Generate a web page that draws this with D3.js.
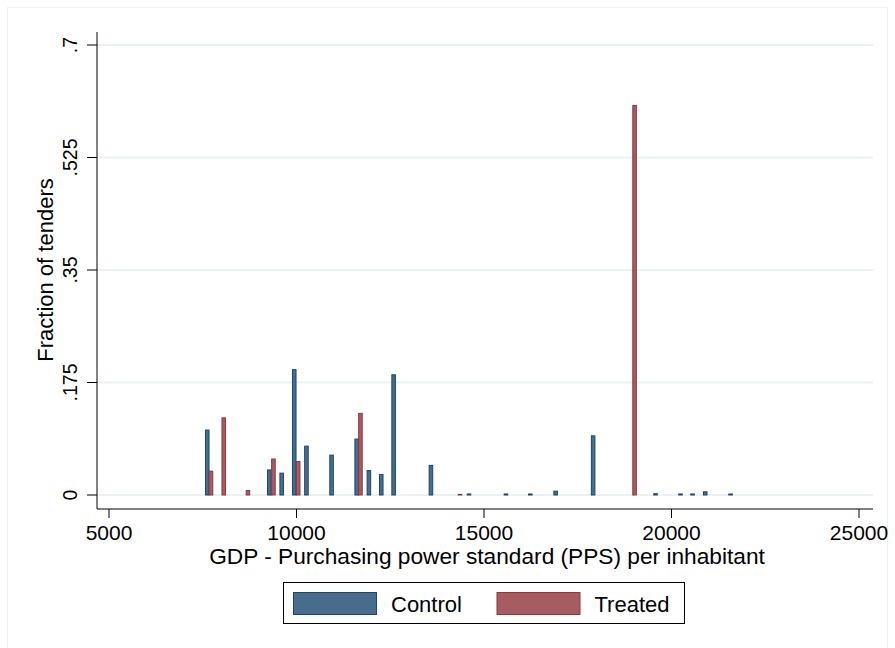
<!DOCTYPE html>
<html>
<head>
<meta charset="utf-8">
<script src="https://cdn.jsdelivr.net/npm/d3@7"></script>
<style>
  body { margin: 0; background: #fff; }
  svg { display: block; font-family: "Liberation Sans", Arial, sans-serif; }
</style>
</head>
<body>
<svg width="895" height="648"></svg>
<script>
// data
var controlGdp = [7620, 9275, 9605, 9940, 10265, 10935, 11605, 11930, 12260, 12590, 13585,
                  14600, 15585, 16235, 16910, 17910, 19575, 20240, 20560, 20900, 21575];
var controlFrac = [0.101, 0.039, 0.034, 0.195, 0.076, 0.062, 0.087, 0.038, 0.032, 0.187, 0.046,
                   0.0016, 0.0016, 0.0016, 0.006, 0.092, 0.002, 0.0016, 0.0016, 0.005, 0.0016];
var treatedGdp = [7720, 8060, 8705, 9385, 10045, 11705, 14360, 19015];
var treatedFrac = [0.037, 0.120, 0.007, 0.056, 0.052, 0.127, 0.001, 0.606];

var xTicks = [5000, 10000, 15000, 20000, 25000];
var yTicks = [0, 0.175, 0.35, 0.525, 0.7];
var yTickLabels = ["0", ".175", ".35", ".525", ".7"];
var seriesNames = ["Control", "Treated"];

var barW = 95; // bar width in GDP units

var svg = d3.select("svg");

// outer graph region frame
svg.append("rect")
  .attr("x", 7.5).attr("y", 7.5)
  .attr("width", 880).attr("height", 660)
  .attr("fill", "#fff")
  .attr("stroke", "#eaf2f3").attr("stroke-width", 1);

var plot = {left: 97, right: 873, top: 32, bottom: 509};

var x = d3.scaleLinear().domain([5000, 25000]).range([109, 859]);
var y = d3.scaleLinear().domain([0, 0.7]).range([495, 45]);

// gridlines
svg.append("g").selectAll("line")
  .data(yTicks)
  .enter().append("line")
    .attr("x1", plot.left).attr("x2", plot.right)
    .attr("y1", function(d) { return y(d); })
    .attr("y2", function(d) { return y(d); })
    .attr("stroke", "#eaf2f3").attr("stroke-width", 2);

// bars
function drawBars(gdp, frac, fill, stroke) {
  var data = d3.zip(gdp, frac);
  svg.append("g").selectAll("rect")
    .data(data)
    .enter().append("rect")
      .attr("x", function(d) { return x(d[0] - barW / 2); })
      .attr("width", function(d) { return x(d[0] + barW / 2) - x(d[0] - barW / 2); })
      .attr("y", function(d) { return y(d[1]); })
      .attr("height", function(d) { return y(0) - y(d[1]); })
      .attr("fill", fill)
      .attr("stroke", stroke).attr("stroke-width", 1);
}
drawBars(controlGdp, controlFrac, "#486c8c", "#1a476f");
drawBars(treatedGdp, treatedFrac, "#a65d62", "#90353b");

// y axis
var yAxis = svg.append("g").attr("transform", "translate(" + plot.left + ",0)");
yAxis.append("line")
  .attr("x1", 0).attr("x2", 0)
  .attr("y1", plot.top).attr("y2", plot.bottom)
  .attr("stroke", "#000").attr("stroke-width", 1);
yAxis.selectAll(".tick")
  .data(yTicks)
  .enter().append("line")
    .attr("x1", -10).attr("x2", 0)
    .attr("y1", function(d) { return y(d); })
    .attr("y2", function(d) { return y(d); })
    .attr("stroke", "#000");
svg.append("g").selectAll("text")
  .data(yTicks)
  .enter().append("text")
    .attr("transform", function(d) { return "translate(77," + y(d) + ") rotate(-90)"; })
    .attr("text-anchor", "middle")
    .attr("font-size", 19.5)
    .text(function(d, i) { return yTickLabels[i]; });
svg.append("text")
  .attr("transform", "translate(53," + y(0.35) + ") rotate(-90)")
  .attr("text-anchor", "middle")
  .attr("font-size", 22)
  .text("Fraction of tenders");

// x axis
var xAxis = svg.append("g").attr("transform", "translate(0," + plot.bottom + ")");
xAxis.append("line")
  .attr("x1", plot.left).attr("x2", plot.right)
  .attr("y1", 0).attr("y2", 0)
  .attr("stroke", "#000").attr("stroke-width", 1);
xAxis.selectAll(".tick")
  .data(xTicks)
  .enter().append("line")
    .attr("x1", function(d) { return x(d); })
    .attr("x2", function(d) { return x(d); })
    .attr("y1", 0).attr("y2", 9)
    .attr("stroke", "#000");
xAxis.selectAll("text")
  .data(xTicks)
  .enter().append("text")
    .attr("x", function(d) { return x(d); })
    .attr("y", 31)
    .attr("text-anchor", "middle")
    .attr("font-size", 21)
    .text(function(d) { return d; });
svg.append("text")
  .attr("x", x(15000) + 3).attr("y", 564)
  .attr("text-anchor", "middle")
  .attr("font-size", 22.7)
  .text("GDP - Purchasing power standard (PPS) per inhabitant");

// legend
var legend = svg.append("g");
legend.append("rect")
  .attr("x", 283.5).attr("y", 582.5)
  .attr("width", 401).attr("height", 41)
  .attr("fill", "#fff").attr("stroke", "#000").attr("stroke-width", 1);
var legendFill = ["#486c8c", "#a65d62"];
var legendStroke = ["#1a476f", "#90353b"];
var legendX = [293.5, 497];
legend.selectAll(".swatch")
  .data(seriesNames)
  .enter().append("rect")
    .attr("x", function(d, i) { return legendX[i]; })
    .attr("y", 592.5)
    .attr("width", 83).attr("height", 22)
    .attr("fill", function(d, i) { return legendFill[i]; })
    .attr("stroke", function(d, i) { return legendStroke[i]; });
legend.selectAll("text")
  .data(seriesNames)
  .enter().append("text")
    .attr("x", function(d, i) { return legendX[i] + 97.5; })
    .attr("y", 612)
    .attr("font-size", 22)
    .text(function(d) { return d; });
</script>
</body>
</html>
